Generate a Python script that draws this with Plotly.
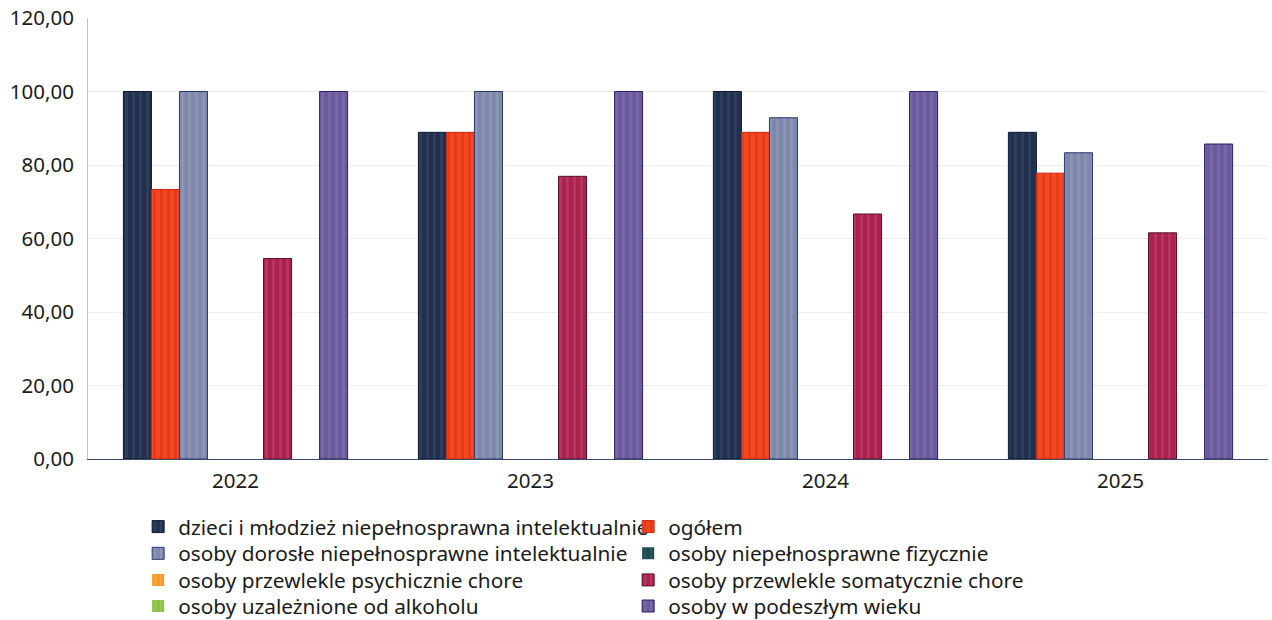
import plotly.graph_objects as go

years = ["2022", "2023", "2024", "2025"]
series_names = [
    "dzieci i młodzież niepełnosprawna intelektualnie",
    "ogółem",
    "osoby dorosłe niepełnosprawne intelektualnie",
    "osoby niepełnosprawne fizycznie",
    "osoby przewlekle psychicznie chore",
    "osoby przewlekle somatycznie chore",
    "osoby uzależnione od alkoholu",
    "osoby w podeszłym wieku",
]
dzieci = [100.00, 88.89, 100.00, 88.89]
ogolem = [73.33, 88.89, 88.89, 77.78]
dorosle = [100.00, 100.00, 92.86, 83.33]
fizycznie = [0, 0, 0, 0]
psychicznie = [0, 0, 0, 0]
somatycznie = [54.55, 76.92, 66.67, 61.54]
alkohol = [0, 0, 0, 0]
podeszly = [100.00, 100.00, 100.00, 85.71]
values = [dzieci, ogolem, dorosle, fizycznie, psychicznie, somatycznie, alkohol, podeszly]

colors = ["#22304f", "#f2481f", "#7f88ab", "#20484d", "#f59a2c", "#a8244e", "#8cbf45", "#6b5a9c"]
pattern_fg = ["#3b5170", "#d8260f", "#9aa3c2", "#356b70", "#f8b45a", "#d04a78", "#a6d466", "#8a78b8"]
outlines = ["#0f1830", "#c8280e", "#2a3a70", "#0f2a2e", "#d07a10", "#5a0f28", "#5a8a20", "#2a1f6a"]

legend_ids = ["legend", "legend", "legend2", "legend2", "legend3", "legend3", "legend4", "legend4"]

fig = go.Figure()
for name, vals, c, pf, oc, lg in zip(series_names, values, colors, pattern_fg, outlines, legend_ids):
    fig.add_trace(go.Bar(
        x=years, y=vals, name=name, legend=lg,
        marker=dict(color=c,
                    line=dict(color=oc, width=[1 if v > 0 else 0 for v in vals]),
                    pattern=dict(shape="|", fgcolor=pf, bgcolor=c, size=7, solidity=0.35)),
    ))

fs = 20.5
lfs = 20.8
legend_common = dict(orientation="h", x=0.0425, xanchor="left", yanchor="top",
                     entrywidth=445, entrywidthmode="pixels",
                     font=dict(size=lfs), tracegroupgap=0, itemwidth=30,
                     traceorder="normal", bgcolor="rgba(0,0,0,0)")
row_y = [-0.1079, -0.1685, -0.2288, -0.2880]

fig.update_layout(
    width=1272, height=620,
    margin=dict(l=88, r=4, t=18, b=161, autoexpand=False),
    paper_bgcolor="white", plot_bgcolor="white",
    barmode="group", bargap=0.24, bargroupgap=0,
    separators=", ",
    font=dict(family="Noto Sans", size=fs, color="#1a1a1a"),
    xaxis=dict(showline=True, linecolor="#3a4a6a", linewidth=1, ticks="",
               tickfont=dict(size=fs), showgrid=False, automargin=False,
               ticklabelstandoff=3),
    yaxis=dict(range=[0, 120], dtick=20, tickformat=".2f", showgrid=True,
               gridcolor="#ececec", gridwidth=1, zeroline=False,
               showline=True, linecolor="#c0c0c0", linewidth=1,
               ticklabelstandoff=9, tickfont=dict(size=fs), automargin=False,
               ticklabeloverflow="allow"),
    legend=dict(legend_common, y=row_y[0]),
    legend2=dict(legend_common, y=row_y[1]),
    legend3=dict(legend_common, y=row_y[2]),
    legend4=dict(legend_common, y=row_y[3]),
)

fig.write_html("out.html",
               config={"displayModeBar": False},
               post_script="document.body.style.margin='0';document.body.style.overflow='hidden';")
